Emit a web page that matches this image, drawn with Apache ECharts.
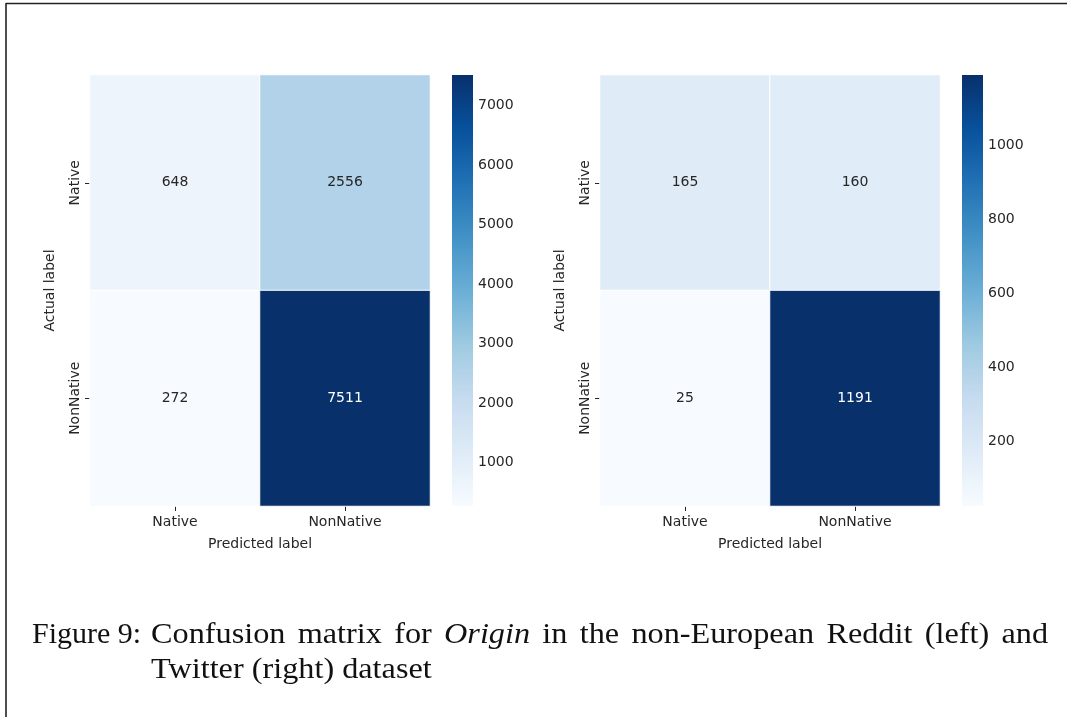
<!DOCTYPE html>
<html>
<head>
<meta charset="utf-8">
<script src="https://cdn.jsdelivr.net/npm/echarts@6/dist/echarts.min.js"></script>
<style>
  html, body { margin: 0; padding: 0; background: #fff; }
  #chart { width: 1067px; height: 717px; }
</style>
</head>
<body>
<div id="chart"></div>
<script>
// Class labels (rows = actual, columns = predicted)
const classLabels = ['Native', 'NonNative'];

// Confusion matrix counts, row-major: [actual][predicted]
const redditCounts = [
  [648, 2556],
  [272, 7511]
];
const twitterCounts = [
  [165, 160],
  [25, 1191]
];

// Colour-bar tick values
const redditTicks = [1000, 2000, 3000, 4000, 5000, 6000, 7000];
const twitterTicks = [200, 400, 600, 800, 1000];

// Axis titles and caption text
const xTitle = 'Predicted label';
const yTitle = 'Actual label';
const captionHead = 'Figure 9:';
const captionLine1 = ['Confusion', 'matrix', 'for', 'Origin', 'in', 'the', 'non-European', 'Reddit', '(left)', 'and'];
const captionLine2 = 'Twitter (right) dataset';

// matplotlib "Blues" colormap stops
const blues = ['#f7fbff', '#deebf7', '#c6dbef', '#9ecae1', '#6baed6', '#4292c6', '#2171b5', '#08519c', '#08306b'];

const textColor = '#262626';
const tickFont = { fontFamily: 'DejaVu Sans', fontSize: 14, color: textColor };

function toCells(matrix) {
  const flat = matrix.flat();
  const lo = Math.min(...flat), hi = Math.max(...flat);
  const out = [];
  matrix.forEach((row, r) => row.forEach((v, c) => {
    const t = (v - lo) / (hi - lo);
    out.push({ value: [c, r, v], label: { color: t > 0.6 ? '#ffffff' : textColor } });
  }));
  return { data: out, lo, hi };
}

const left = toCells(redditCounts);
const right = toCells(twitterCounts);

const panels = [
  { heat: { left: 90, top: 75, width: 340, height: 431 }, bar: { left: 452, top: 75, width: 21, height: 431 }, cells: left, ticks: redditTicks },
  { heat: { left: 600, top: 75, width: 340, height: 431 }, bar: { left: 962, top: 75, width: 21, height: 431 }, cells: right, ticks: twitterTicks }
];

const grid = [], xAxis = [], yAxis = [], series = [], visualMap = [];

panels.forEach((p, i) => {
  const gHeat = grid.length;
  grid.push(p.heat);
  xAxis.push({
    type: 'category', gridIndex: gHeat, data: classLabels,
    name: xTitle, nameLocation: 'middle', nameGap: 31,
    nameTextStyle: tickFont,
    axisLine: { show: false },
    axisTick: { show: true, alignWithLabel: true, length: 5, lineStyle: { color: textColor } },
    axisLabel: Object.assign({ margin: 9 }, tickFont),
    splitLine: { show: false }
  });
  yAxis.push({
    type: 'category', gridIndex: gHeat, data: classLabels, inverse: true,
    name: yTitle, nameLocation: 'middle', nameGap: 33,
    nameTextStyle: tickFont,
    axisLine: { show: false },
    axisTick: { show: true, alignWithLabel: true, length: 5, lineStyle: { color: textColor } },
    axisLabel: Object.assign({ rotate: 90, margin: 8 }, tickFont),
    splitLine: { show: false }
  });
  const heatIdx = series.length;
  series.push({
    type: 'heatmap', xAxisIndex: gHeat, yAxisIndex: gHeat,
    data: p.cells.data,
    itemStyle: { borderColor: '#ffffff', borderWidth: 1 },
    label: { show: true, fontFamily: 'DejaVu Sans', fontSize: 14, formatter: (d) => String(d.value[2]) },
    emphasis: { disabled: true }
  });
  visualMap.push({
    show: false, type: 'continuous', seriesIndex: heatIdx, dimension: 2,
    min: p.cells.lo, max: p.cells.hi, inRange: { color: blues }
  });

  // colour bar: a value axis on the right with a gradient-filled strip
  const gBar = grid.length;
  grid.push(p.bar);
  xAxis.push({ type: 'value', gridIndex: gBar, min: 0, max: 1, show: false });
  yAxis.push({
    type: 'value', gridIndex: gBar, position: 'right',
    min: p.cells.lo, max: p.cells.hi,
    axisLine: { show: false },
    splitLine: { show: false },
    axisTick: { show: true, length: 4, customValues: p.ticks, lineStyle: { color: textColor } },
    axisLabel: Object.assign({ margin: 5, customValues: p.ticks, formatter: (v) => String(v) }, tickFont)
  });
  series.push({
    type: 'custom', xAxisIndex: gBar, yAxisIndex: gBar,
    data: [[0, 1, p.cells.lo, p.cells.hi]],
    silent: true,
    renderItem: (params, api) => {
      const a = api.coord([api.value(0), api.value(3)]);
      const b = api.coord([api.value(1), api.value(2)]);
      const stops = blues.map((c, k) => ({ offset: k / (blues.length - 1), color: c }));
      return {
        type: 'rect',
        shape: { x: a[0], y: a[1], width: b[0] - a[0], height: b[1] - a[1] },
        style: { fill: new echarts.graphic.LinearGradient(0, 1, 0, 0, stops) }
      };
    }
  });
});

// Caption: hanging indent, first line justified between the two margins
const capFont = 'Liberation Serif';
const capSize = 30;
const capStretch = 1.075;   // widen the serif face a little horizontally
const fontOf = (italic) => (italic ? 'italic ' : '') + capSize + 'px "' + capFont + '"';
const measure = (() => {
  const ctx = document.createElement('canvas').getContext('2d');
  return (txt, italic) => {
    ctx.font = fontOf(italic);
    return ctx.measureText(txt).width * capStretch;
  };
})();
const capLeft = 32, capIndent = 151, capRight = 1048, capY1 = 620, capY2 = 655;
const capText = (txt, x, y, italic, stretch) => ({
  type: 'text', x, y, scaleX: stretch,
  style: { text: txt, font: fontOf(italic), fill: '#111', textVerticalAlign: 'alphabetic' }
});
const graphic = [
  { type: 'line', shape: { x1: 6, y1: 3.5, x2: 1067, y2: 3.5 }, style: { stroke: '#222', lineWidth: 1.6 } },
  { type: 'line', shape: { x1: 6, y1: 3, x2: 6, y2: 717 }, style: { stroke: '#222', lineWidth: 1.6 } },
  capText(captionHead, capLeft, capY1, false, 1)
];
const widths = captionLine1.map(w => measure(w, w === 'Origin'));
const total = widths.reduce((s, w) => s + w, 0);
const gap = (capRight - capIndent - total) / (captionLine1.length - 1);
let cx = capIndent;
captionLine1.forEach((w, k) => {
  graphic.push(capText(w, cx, capY1, w === 'Origin', capStretch));
  cx += widths[k] + gap;
});
graphic.push(capText(captionLine2, capIndent, capY2, false, capStretch));

const chart = echarts.init(document.getElementById('chart'), null, { renderer: 'canvas' });
chart.setOption({
  animation: false,
  backgroundColor: '#ffffff',
  grid, xAxis, yAxis, series, visualMap, graphic
});
</script>
</body>
</html>
